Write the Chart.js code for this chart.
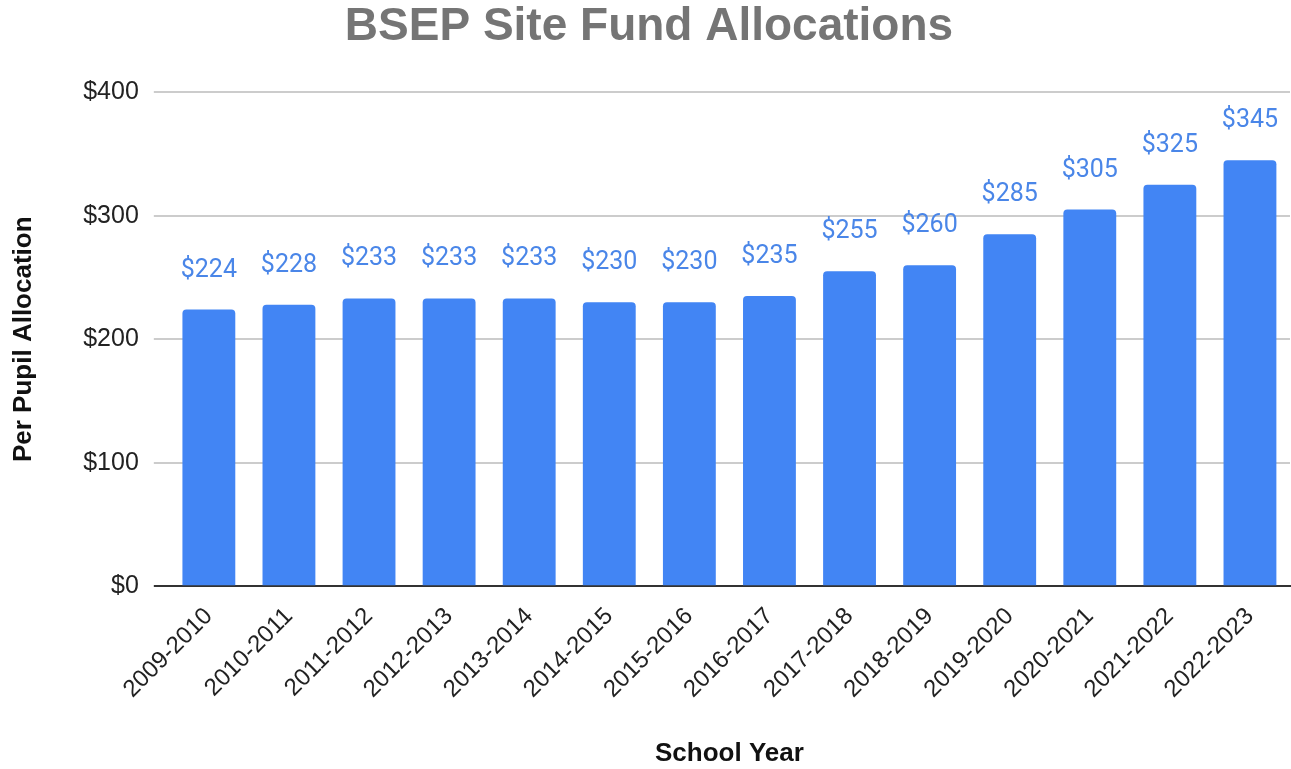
<!DOCTYPE html>
<html>
<head>
<meta charset="utf-8">
<script src="https://cdn.jsdelivr.net/npm/chart.js@4"></script>
<style>
  html, body { margin: 0; padding: 0; background: #fff; }
</style>
</head>
<body>
<canvas id="chartBsep" width="1291" height="769"></canvas>
<script>
const schoolYears = ['2009-2010', '2010-2011', '2011-2012', '2012-2013', '2013-2014', '2014-2015', '2015-2016',
    '2016-2017', '2017-2018', '2018-2019', '2019-2020', '2020-2021', '2021-2022', '2022-2023'];
const perPupil = [224, 228, 233, 233, 233, 230, 230, 235, 255, 260, 285, 305, 325, 345];
const yTicks = [0, 100, 200, 300, 400];

// etiquetas de valor encima de cada barra
const valueLabels = {
    id: 'valueLabels',
    afterDatasetsDraw(chart) {
        const ctx = chart.ctx;
        const meta = chart.getDatasetMeta(0);
        ctx.save();
        ctx.font = '25px Roboto';
        ctx.fillStyle = '#4a86e8';
        ctx.textAlign = 'center';
        ctx.textBaseline = 'alphabetic';
        meta.data.forEach((bar, i) => {
            ctx.fillText('$' + perPupil[i], bar.x, bar.y - 33);
        });
        ctx.restore();
    }
};

new Chart(document.getElementById('chartBsep'), {
    type: 'bar',
    data: {
        labels: schoolYears,
        datasets: [{
            label: 'Per Pupil Allocation',
            data: perPupil,
            backgroundColor: '#4285f4',
            borderRadius: { topLeft: 4, topRight: 4 },
            borderSkipped: 'bottom',
            categoryPercentage: 1,
            barPercentage: 0.66
        }]
    },
    options: {
        responsive: false,
        animation: false,
        devicePixelRatio: 1,
        layout: { padding: { left: 8, right: 1, top: 0, bottom: 0 } },
        plugins: {
            legend: { display: false },
            tooltip: { enabled: false },
            title: {
                display: true,
                text: 'BSEP Site Fund Allocations',
                color: '#757575',
                font: { family: 'Liberation Sans', size: 46, weight: 'bold' },
                padding: { top: 0, bottom: 37 }
            }
        },
        scales: {
            y: {
                min: 0,
                max: 400,
                afterBuildTicks: axis => { axis.ticks = yTicks.map(v => ({ value: v })); },
                ticks: {
                    color: '#222',
                    font: { family: 'Liberation Sans', size: 25 },
                    padding: 15,
                    callback: v => '$' + v
                },
                grid: {
                    color: c => (c.tick && c.tick.value === 0) ? '#333' : '#cccccc',
                    lineWidth: 2,
                    drawTicks: true,
                    tickLength: 15
                },
                border: { display: false },
                title: {
                    display: true,
                    text: 'Per Pupil Allocation',
                    color: '#111',
                    font: { family: 'Liberation Sans', size: 26, weight: 'bold' },
                    padding: { top: 0, bottom: 29 }
                }
            },
            x: {
                ticks: {
                    color: '#222',
                    font: { family: 'Liberation Sans', size: 24 },
                    minRotation: 45,
                    maxRotation: 45,
                    padding: 8
                },
                grid: { display: false },
                border: { color: '#333', width: 2 },
                title: {
                    display: true,
                    text: 'School Year',
                    color: '#111',
                    font: { family: 'Liberation Sans', size: 26, weight: 'bold' },
                    padding: { top: 26, bottom: 0 }
                }
            }
        }
    },
    plugins: [valueLabels]
});
</script>
</body>
</html>
